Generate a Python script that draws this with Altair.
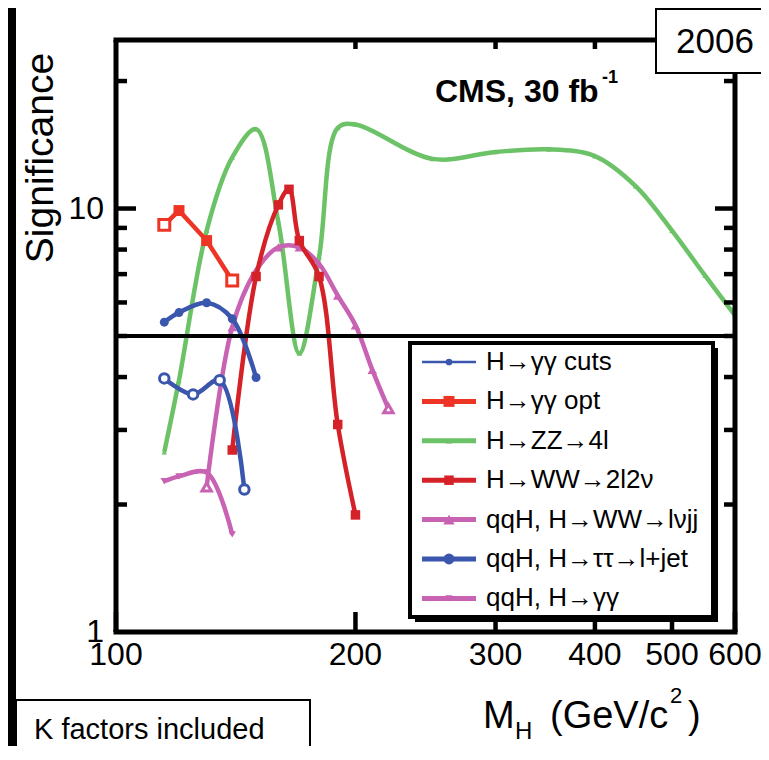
import altair as alt
import pandas as pd

# Higgs mass points (GeV/c^2) and significance
gg_cuts_m = [115, 120, 130, 140, 150]
gg_cuts_s = [5.39, 5.68, 5.99, 5.49, 3.99]

gg_opt_m = [115, 120, 130, 140]
gg_opt_s = [9.15, 9.89, 8.40, 6.76]
gg_opt_open = [115, 140]

zz_m = [115, 120, 130, 140, 150, 160, 170, 180, 190, 200, 250, 300, 350, 400, 450, 500, 550, 600]
zz_s = [2.66, 3.93, 8.87, 13.2, 15.4, 9.28, 4.55, 7.68, 15.5, 15.8, 13.1, 13.6, 13.8, 13.3, 11.3, 8.87, 6.95, 5.59]

ww_m = [140, 150, 160, 165, 170, 180, 190, 200]
ww_s = [2.69, 6.91, 10.2, 11.1, 8.4, 6.91, 3.09, 1.89]

lvjj_m = [130, 140, 150, 160, 170, 180, 190, 200, 210, 220]
lvjj_s = [2.20, 5.25, 7.14, 8.1, 8.1, 7.4, 6.23, 5.30, 4.16, 3.37]
lvjj_open = [130, 220]

tautau_m = [115, 125, 135, 145]
tautau_s = [3.97, 3.64, 3.93, 2.17]
tautau_open = [115, 125, 135, 145]

qqh_gg_m = [115, 120, 130, 140]
qqh_gg_s = [2.27, 2.33, 2.38, 1.70]

# stray blue dots sitting on the S=1 floor
floor_m = [100, 110, 120, 130, 140, 150, 160, 170, 180, 190]

five_sigma = [5]
x_ticks = [100, 200, 300, 400, 500, 600]
x_top_ticks = [200, 300, 400, 500]
y_major = [10]
y_minor = [2, 3, 4, 5, 6, 7, 8, 9, 20]
y_labels = [1, 10]

BLUE = '#3b57ad'
RED = '#ee3424'
GREEN = '#6cc267'
DRED = '#d52128'
MAG = '#c862b2'

# name, masses, values, open markers, colour, shape, size, interpolation, legend size, legend line
series = [
    ('H→ZZ→4l', zz_m, zz_s, [], GREEN, 'triangle-up', 30, 'catmull-rom', 40, 5),
    ('qqH, H→WW→lνjj', lvjj_m, lvjj_s, lvjj_open, MAG, 'triangle-up', 90, 'catmull-rom', 130, 5),
    ('H→WW→2l2ν', ww_m, ww_s, [], DRED, 'square', 90, 'catmull-rom', 90, 5),
    ('H→γγ cuts', gg_cuts_m, gg_cuts_s, [], BLUE, 'circle', 80, 'catmull-rom', 45, 2.5),
    ('qqH, H→ττ→l+jet', tautau_m, tautau_s, tautau_open, BLUE, 'circle', 90, 'catmull-rom', 120, 5),
    ('qqH, H→γγ', qqh_gg_m, qqh_gg_s, [], MAG, 'triangle-down', 55, 'catmull-rom', 50, 5),
    ('H→γγ opt', gg_opt_m, gg_opt_s, gg_opt_open, RED, 'square', 120, 'linear', 120, 5),
]
legend_order = ['H→γγ cuts', 'H→γγ opt', 'H→ZZ→4l', 'H→WW→2l2ν',
                'qqH, H→WW→lνjj', 'qqH, H→ττ→l+jet', 'qqH, H→γγ']

W, H = 619, 592
FONT = 'Liberation Sans'
xs = alt.Scale(type='log', domain=[100, 600], nice=False)
ys = alt.Scale(type='log', domain=[1, 25], nice=False)
X = alt.X('m:Q', scale=xs, axis=None)
Y = alt.Y('s:Q', scale=ys, axis=None)
one = pd.DataFrame({'k': [0]})


def box(x1, x2, y1, y2, **kw):
    return alt.Chart(one).mark_rect(**kw).encode(
        x=alt.value(x1), x2=alt.value(x2), y=alt.value(y1), y2=alt.value(y2))


def seg(x1, x2, y1, y2, width, col='black'):
    enc = dict(x=alt.value(x1), y=alt.value(y1))
    if x2 != x1:
        enc['x2'] = alt.value(x2)
    if y2 != y1:
        enc['y2'] = alt.value(y2)
    return alt.Chart(one).mark_rule(color=col, strokeWidth=width).encode(**enc)


def label(txt, xx, yy, size, **kw):
    return alt.Chart(one).mark_text(text=txt, font=FONT, fontSize=size, **kw).encode(
        x=alt.value(xx), y=alt.value(yy))


layers = []

# left black band and the box outside the frame
layers.append(box(-108, -100, -32, H + 130, color='black'))
layers.append(box(-100, 194, 660, H + 160, fill='white', stroke='black', strokeWidth=2))
layers.append(label('K factors included', -82, 699, 29, align='left', baseline='alphabetic'))

# data curves
for name, ms, ss, opn, col, shp, sz, interp, lsz, lw in series:
    df = pd.DataFrame({'m': ms, 's': ss})
    df['open'] = df['m'].isin(opn)
    base = alt.Chart(df).encode(x=X, y=Y)
    layers.append(base.mark_line(color=col, strokeWidth=4.5, interpolate=interp, clip=True))
    layers.append(base.transform_filter('!datum.open').mark_point(
        shape=shp, size=sz, filled=True, color=col, opacity=1, clip=True))
    if opn:
        layers.append(base.transform_filter('datum.open').mark_point(
            shape=shp, size=sz, fill='white', stroke=col, strokeWidth=3, opacity=1, clip=True))

floor_df = pd.DataFrame({'m': floor_m, 's': [1] * len(floor_m)})
layers.append(alt.Chart(floor_df).mark_point(shape='circle', size=12, filled=True, color=BLUE,
                                             opacity=1).encode(x=X, y=Y))

# 5 sigma line
layers.append(alt.Chart(pd.DataFrame({'s': five_sigma})).mark_rule(color='black', strokeWidth=4).encode(y=Y))

# frame drawn as four thick segments
layers.append(seg(-2.5, W + 2.5, 0, 0, 5))
layers.append(seg(-2.5, W + 2.5, H, H, 5))
layers.append(seg(0, 0, 0, H, 5))
layers.append(seg(W, W, 0, H, 5))

# ticks pointing inward
xt = pd.DataFrame({'t': x_ticks})
layers.append(alt.Chart(xt).mark_rule(color='black', strokeWidth=4.5).encode(
    x=alt.X('t:Q', scale=xs, axis=None), y=alt.value(H - 20), y2=alt.value(H)))
xtt = pd.DataFrame({'t': x_top_ticks})
layers.append(alt.Chart(xtt).mark_rule(color='black', strokeWidth=4.5).encode(
    x=alt.X('t:Q', scale=xs, axis=None), y=alt.value(0), y2=alt.value(9)))
ymj = pd.DataFrame({'t': y_major})
ymn = pd.DataFrame({'t': y_minor})
for d, ln in [(ymj, 20), (ymn, 11)]:
    layers.append(alt.Chart(d).mark_rule(color='black', strokeWidth=4.5).encode(
        y=alt.Y('t:Q', scale=ys, axis=None), x=alt.value(0), x2=alt.value(ln)))
    layers.append(alt.Chart(d).mark_rule(color='black', strokeWidth=4.5).encode(
        y=alt.Y('t:Q', scale=ys, axis=None), x=alt.value(W - ln), x2=alt.value(W)))

# tick labels
xl = pd.DataFrame({'t': x_ticks, 'lab': [str(v) for v in x_ticks]})
layers.append(alt.Chart(xl).mark_text(font=FONT, fontSize=32, baseline='alphabetic').encode(
    x=alt.X('t:Q', scale=xs, axis=None), y=alt.value(625), text='lab:N'))
yl = pd.DataFrame({'t': y_labels, 'lab': [str(v) for v in y_labels]})
layers.append(alt.Chart(yl).mark_text(font=FONT, fontSize=32, align='right', baseline='middle').encode(
    y=alt.Y('t:Q', scale=ys, axis=None), x=alt.value(-12), text='lab:N'))

# axis titles
layers.append(label('Significance', -75, 118, 39, angle=270, align='center', baseline='middle'))
for txt, xx, yy, fs in [('M', 367, 688, 38), ('H', 399, 699, 24), ('(GeV/c', 434, 688, 38),
                        ('2', 554, 663, 22), (')', 572, 688, 38)]:
    layers.append(label(txt, xx, yy, fs, align='left', baseline='alphabetic'))

# CMS label and year box
layers.append(label('CMS, 30 fb', 319, 62, 32, fontWeight='bold', align='left', baseline='alphabetic'))
layers.append(label('-1', 486, 43, 18, fontWeight='bold', align='left', baseline='alphabetic'))
layers.append(box(540, 680, -31, 33, fill='white', stroke='black', strokeWidth=2))
layers.append(label('2006', 599, 13, 35, align='center', baseline='alphabetic'))

# legend box with drop shadow
layers.append(box(299, 602, 308, 582, color='black'))
layers.append(box(294, 597, 303, 577, fill='white', stroke='black', strokeWidth=4))
style = {s[0]: s for s in series}
for i, name in enumerate(legend_order):
    _, _, _, _, col, shp, _, _, lsz, lw = style[name]
    yy = 322 + 39.4 * i
    layers.append(seg(306, 360, yy, yy, lw, col))
    layers.append(alt.Chart(one).mark_point(shape=shp, size=lsz, filled=True, color=col, opacity=1).encode(
        x=alt.value(333), y=alt.value(yy)))
    layers.append(label(name, 370, yy, 26, align='left', baseline='middle'))

chart = alt.layer(*layers).properties(
    width=W, height=H,
    autosize=alt.AutoSizeParams(type='none'),
    padding={'left': 108, 'top': 32, 'right': 26, 'bottom': 114},
).configure_view(strokeWidth=0)

chart.save('out.html', embed_options={'renderer': 'svg', 'actions': False})
